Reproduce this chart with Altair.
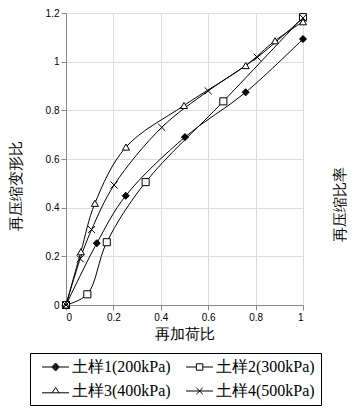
import altair as alt
import pandas as pd

# ---- data ----
soil_names = ["土样1(200kPa)", "土样2(300kPa)", "土样3(400kPa)", "土样4(500kPa)"]

s1_x = [0, 0.13, 0.252, 0.502, 0.758, 1.0]
s1_y = [0, 0.254, 0.449, 0.69, 0.874, 1.093]

s2_x = [0, 0.09, 0.172, 0.336, 0.664, 1.0]
s2_y = [0, 0.044, 0.258, 0.505, 0.837, 1.183]

s3_x = [0, 0.063, 0.122, 0.253, 0.498, 0.758, 0.882, 1.0]
s3_y = [0, 0.219, 0.418, 0.649, 0.82, 0.984, 1.086, 1.164]

s4_x = [0, 0.06, 0.108, 0.203, 0.404, 0.6, 0.807, 1.0]
s4_y = [0, 0.19, 0.31, 0.493, 0.73, 0.88, 1.018, 1.18]

x_ticks = [0, 0.2, 0.4, 0.6, 0.8, 1.0]
y_ticks = [0, 0.2, 0.4, 0.6, 0.8, 1.0, 1.2]

x_title = "再加荷比"
y_title = "再压缩变形比"
right_title = "再压缩比率"

rows = []
for name, xs, ys in zip(soil_names, [s1_x, s2_x, s3_x, s4_x], [s1_y, s2_y, s3_y, s4_y]):
    for i, (a, b) in enumerate(zip(xs, ys)):
        rows.append({"soil": name, "x": a, "y": b, "order": i})
df = pd.DataFrame(rows)

SERIF = "Liberation Serif"

# marker shapes for the data points
point_shapes = ["diamond", "square", "triangle-up", "M-1,-1L1,1M-1,1L1,-1"]
point_fills = ["black", "white", "white", "white"]

# legend symbols: line segment plus marker (unit = sqrt(size)/2)
m = 2.9
diamond_fill = "".join(
    f"M{m},{-k}L{m+0.95*k},0L{m},{k}L{m-0.95*k},0Z" for k in [1, 0.8, 0.6, 0.4, 0.2]
)
legend_shapes = [
    f"M-0.5,0L{m-0.95},0M{m+0.95},0L6.25,0" + diamond_fill,
    f"M-0.5,0L{m-0.8},0M{m+0.8},0L6.25,0M{m-0.8},-0.8L{m+0.8},-0.8L{m+0.8},0.8L{m-0.8},0.8Z",
    f"M-0.5,0.45L{m-0.85},0.45M{m+0.85},0.45L6.25,0.45M{m},-0.9L{m+0.85},0.45L{m-0.85},0.45Z",
    f"M-0.5,0L6.25,0M{m-0.8},-0.8L{m+0.8},0.8M{m-0.8},0.8L{m+0.8},-0.8",
]

xs = alt.X("x:Q", scale=alt.Scale(domain=[0, 1]),
           axis=alt.Axis(values=x_ticks, format="~g", title=x_title,
                         titleY=21, titleBaseline="top", titleFontSize=15,
                         titleFont=SERIF, titleFontWeight="normal"))
ys = alt.Y("y:Q", scale=alt.Scale(domain=[0, 1.2]),
           axis=alt.Axis(values=y_ticks, format="~g", title=y_title,
                         titleX=-51, titleY=172, titleAngle=270, titleAlign="center",
                         titleBaseline="middle", titleFontSize=15, titleFont=SERIF,
                         titleFontWeight="normal"))

lines = alt.Chart(df).mark_line(color="black", strokeWidth=1, interpolate="catmull-rom").encode(
    x=xs, y=ys, detail="soil:N", order="order:Q"
)

points = alt.Chart(df).mark_point(filled=False, stroke="black", strokeWidth=1, size=50, opacity=1).encode(
    x="x:Q", y="y:Q",
    shape=alt.Shape("soil:N", scale=alt.Scale(domain=soil_names, range=point_shapes), legend=None),
    fill=alt.Fill("soil:N", scale=alt.Scale(domain=soil_names, range=point_fills), legend=None),
)

leg = alt.Legend(orient="none", legendX=-36, legendY=340, columns=2, direction="horizontal",
                 title=None, strokeColor="black", padding=6, labelFont=SERIF, labelFontSize=16,
                 symbolSize=64, labelOffset=20, rowPadding=8, columnPadding=9,
                 symbolOpacity=1, symbolStrokeColor="black", symbolStrokeWidth=1,
                 symbolFillColor="white", labelColor="black")

legend_layer = alt.Chart(df).transform_filter("false").mark_point(
    filled=False, color="black", strokeWidth=1, size=64, opacity=1
).encode(
    x="x:Q", y="y:Q",
    shape=alt.Shape("soil:N", scale=alt.Scale(domain=soil_names, range=legend_shapes), legend=leg),
)

rtitle = alt.Chart(pd.DataFrame({"t": [right_title]})).mark_text(
    angle=270, align="center", baseline="middle", fontSize=15, font=SERIF, color="black"
).encode(x=alt.value(274), y=alt.value(191), text="t:N")

chart = alt.layer(lines, points, legend_layer, rtitle).resolve_scale(
    shape="independent", fill="independent"
).properties(
    width=237, height=292,
    autosize=alt.AutoSizeParams(type="none"),
    padding={"left": 66, "top": 13, "right": 53, "bottom": 108},
).configure_view(
    stroke="black", strokeWidth=1
).configure_axis(
    domain=False, ticks=False, grid=True, gridColor="black", gridDash=[4, 2],
    gridWidth=1, gridOpacity=1, labelFont=SERIF, labelFontSize=16, labelColor="black",
    titleColor="black", labelPadding=4
).configure(background="white")

chart.save("out.html", embed_options={"renderer": "svg", "actions": False})
